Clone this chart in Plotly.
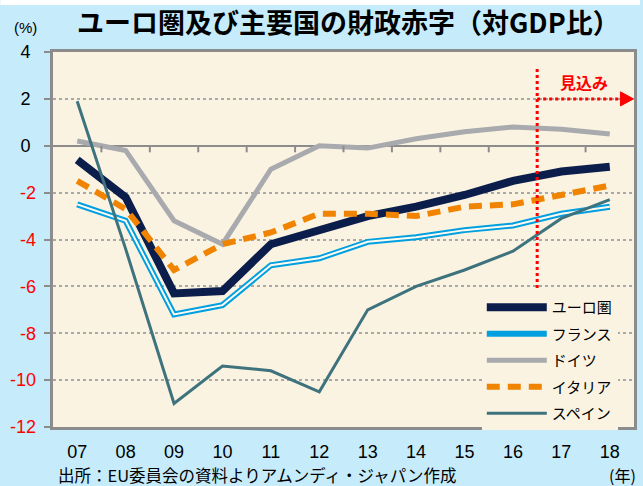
import plotly.graph_objects as go

# ---------------- data ----------------
years = ["07", "08", "09", "10", "11", "12", "13", "14", "15", "16", "17", "18"]
euro = [-0.6, -2.2, -6.3, -6.2, -4.2, -3.6, -3.0, -2.6, -2.1, -1.5, -1.1, -0.9]
france = [-2.5, -3.2, -7.2, -6.8, -5.1, -4.8, -4.1, -3.9, -3.6, -3.4, -2.9, -2.6]
germany = [0.2, -0.2, -3.2, -4.2, -1.0, 0.0, -0.1, 0.3, 0.6, 0.8, 0.7, 0.5]
italy = [-1.5, -2.7, -5.3, -4.2, -3.7, -2.9, -2.9, -3.0, -2.6, -2.5, -2.1, -1.7]
spain = [1.9, -4.4, -11.0, -9.4, -9.6, -10.5, -7.0, -6.0, -5.3, -4.5, -3.1, -2.3]
ytick_pos = [4, 2, 0]
ytick_neg = [-2, -4, -6, -8, -10, -12]

title_text = "<b>ユーロ圏及び主要国の財政赤字（対GDP比）</b>"
source_text = "出所：EU委員会の資料よりアムンディ・ジャパン作成"
forecast_text = "<b>見込み</b>"

# ---------------- layout constants ----------------
W, H = 643, 486
L, R, T, B = 53, 6, 52, 59
PW, PH = W - L - R, H - T - B


def px_x(px):
    return (px - L) / PW


def px_y(py):
    return (H - B - py) / PH


FONT = "Arial, 'Liberation Sans', 'Noto Sans CJK JP', sans-serif"
JFONT = "'Noto Sans CJK JP', Arial, sans-serif"
GRAY = "#8C8C8C"

x = list(range(len(years)))

fig = go.Figure()

fig.add_trace(go.Scatter(x=x, y=euro, mode="lines", name="ユーロ圏",
                         line=dict(color="#0B1E4B", width=8), legendgroup="a"))
fig.add_trace(go.Scatter(x=x, y=france, mode="lines", name="フランス",
                         line=dict(color="#00A0E0", width=6), legendgroup="b"))
fig.add_trace(go.Scatter(x=x, y=france, mode="lines", name="フランス",
                         line=dict(color="#FFFAF0", width=2), showlegend=False,
                         legendgroup="b", hoverinfo="skip"))
fig.add_trace(go.Scatter(x=x, y=germany, mode="lines", name="ドイツ",
                         line=dict(color="#A9AAAE", width=5), legendgroup="c"))
fig.add_trace(go.Scatter(x=x, y=italy, mode="lines", name="イタリア",
                         line=dict(color="#F08400", width=6, dash="13px,8px"),
                         legendgroup="d"))
fig.add_trace(go.Scatter(x=x, y=spain, mode="lines", name="スペイン",
                         line=dict(color="#3E737E", width=3), legendgroup="e"))
# invisible helper trace so that the red (negative) tick-label axis is drawn
fig.add_trace(go.Scatter(x=x, y=euro, mode="lines", yaxis="y2",
                         line=dict(width=0), opacity=0, showlegend=False,
                         hoverinfo="skip"))

fig.update_layout(
    width=W, height=H, autosize=False,
    margin=dict(l=L, r=R, t=T, b=B),
    paper_bgcolor="#C6ECFB",
    plot_bgcolor="#FAF3E2",
    font=dict(family=FONT, size=18, color="#000000"),
    showlegend=True,
    legend=dict(
        x=px_x(484), y=px_y(291), xanchor="left", yanchor="top",
        bgcolor="#FAF3E2", borderwidth=0,
        font=dict(family=JFONT, size=15, color="#000000"),
        itemwidth=60, tracegroupgap=4,
    ),
    xaxis=dict(
        range=[-0.5, len(years) - 0.5],
        tickmode="array", tickvals=x, ticktext=years,
        showgrid=False, zeroline=False,
        showline=True, linecolor=GRAY, linewidth=3, mirror=True,
        ticks="", ticklabelstandoff=6,
        tickfont=dict(size=18, family=FONT),
    ),
    yaxis=dict(
        range=[-12, 4],
        tickmode="array", tickvals=ytick_pos + ytick_neg,
        ticktext=[str(v) for v in ytick_pos] + [""] * len(ytick_neg),
        showgrid=True, gridcolor="#A8A8A8", gridwidth=1.5, griddash="dot",
        zeroline=True, zerolinecolor=GRAY, zerolinewidth=2,
        showline=True, linecolor=GRAY, linewidth=3, mirror=True,
        ticks="outside", ticklen=6, tickcolor=GRAY, tickwidth=2,
        ticklabelstandoff=10,
        tickfont=dict(size=18, family=FONT, color="#000000"),
    ),
    yaxis2=dict(
        range=[-12, 4], overlaying="y", side="left", anchor="x",
        tickmode="array", tickvals=ytick_neg, ticktext=[str(v) for v in ytick_neg],
        showgrid=False, zeroline=False, showline=False,
        ticks="", ticklabelstandoff=16,
        tickfont=dict(size=18, family=FONT, color="#FF0000"),
    ),
)

shapes = []
# white strip at very top
shapes.append(dict(type="rect", xref="paper", yref="paper",
                   x0=px_x(0), x1=px_x(W), y0=px_y(5), y1=px_y(0),
                   fillcolor="#FFFFFF", line=dict(width=0), layer="above"))
# tick marks on the zero line at category boundaries
for k in range(len(years) - 1):
    shapes.append(dict(type="line", xref="x", yref="y",
                       x0=k + 0.5, x1=k + 0.5, y0=0, y1=-0.28,
                       line=dict(color=GRAY, width=2)))

# forecast marker
FORECAST_X = 9.5
FORECAST_Y = 2.0
ARROW_TIP = 11.49
ARROW_BASE = 11.22
shapes.append(dict(type="line", xref="x", yref="y",
                   x0=FORECAST_X, x1=FORECAST_X, y0=3.27, y1=-12,
                   line=dict(color="#FF0000", width=3, dash="dot")))
shapes.append(dict(type="line", xref="x", yref="y",
                   x0=FORECAST_X, x1=ARROW_BASE, y0=FORECAST_Y, y1=FORECAST_Y,
                   line=dict(color="#FF0000", width=3, dash="dot")))
shapes.append(dict(type="path", xref="x", yref="y",
                   path=f"M {ARROW_BASE},{FORECAST_Y + 0.3} L {ARROW_TIP},{FORECAST_Y} "
                        f"L {ARROW_BASE},{FORECAST_Y - 0.3} Z",
                   fillcolor="#FF0000", line=dict(color="#FF0000", width=1)))
fig.update_layout(shapes=shapes)

annotations = [
    dict(text=title_text, xref="paper", yref="paper", x=px_x(350), y=px_y(21),
         xanchor="center", yanchor="middle", showarrow=False,
         font=dict(family=JFONT, size=27, color="#000000")),
    dict(text="(%)", xref="paper", yref="paper", x=px_x(25), y=px_y(27),
         xanchor="center", yanchor="middle", showarrow=False,
         font=dict(family=FONT, size=15, color="#000000")),
    dict(text=source_text, xref="paper", yref="paper", x=px_x(56), y=px_y(475),
         xanchor="left", yanchor="middle", showarrow=False,
         font=dict(family=JFONT, size=16.5, color="#000000")),
    dict(text="(年)", xref="paper", yref="paper", x=px_x(641), y=px_y(475),
         xanchor="right", yanchor="middle", showarrow=False,
         font=dict(family=JFONT, size=16, color="#000000")),
    dict(text=forecast_text, xref="x", yref="y", x=10.47, y=2.72,
         xanchor="center", yanchor="middle", showarrow=False,
         font=dict(family=JFONT, size=16, color="#FF0000")),
]
fig.update_layout(annotations=annotations)

fig.write_html("out.html",
               config={"displayModeBar": False},
               post_script="document.body.style.margin='0';"
                           "document.body.style.overflow='hidden';")
